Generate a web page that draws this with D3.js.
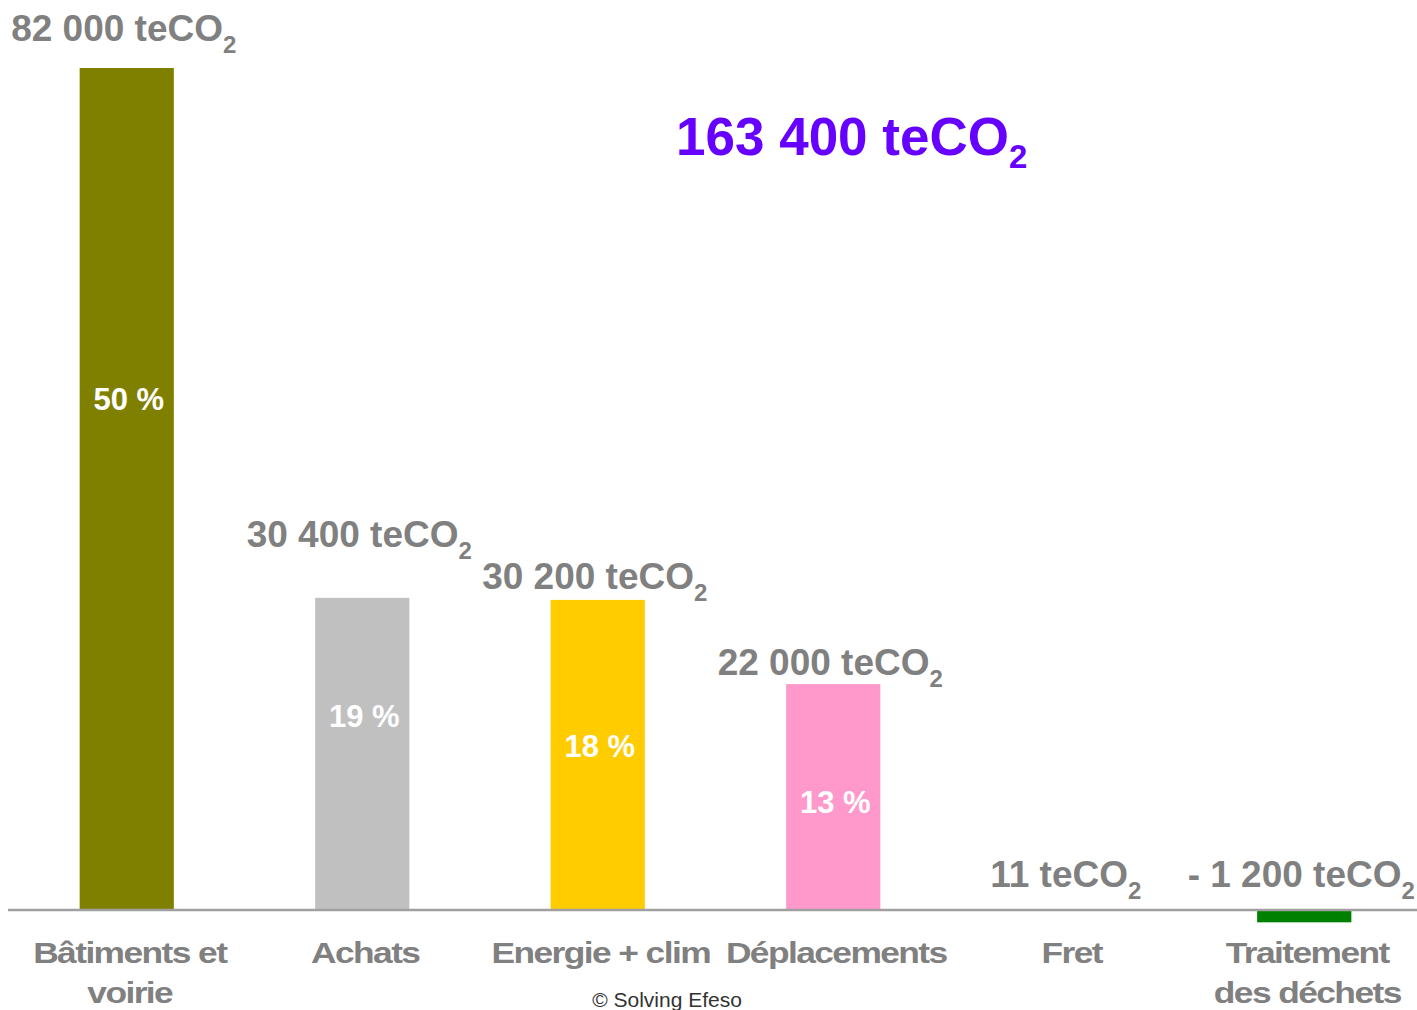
<!DOCTYPE html>
<html>
<head>
<meta charset="utf-8">
<script src="https://cdn.jsdelivr.net/npm/d3@7"></script>
<style>
  html, body { margin: 0; padding: 0; background: #ffffff; }
  svg { display: block; }
  text { font-family: "Liberation Sans", Arial, sans-serif; }
</style>
</head>
<body>
<svg id="chart" width="1417" height="1010"></svg>
<script>
// ---- Data ----
const categories = [["Bâtiments et", "voirie"], ["Achats"], ["Energie + clim"], ["Déplacements"], ["Fret"], ["Traitement", "des déchets"]];
const values = [82000, 30400, 30200, 22000, 11, -1200];
const valueLabels = ["82 000", "30 400", "30 200", "22 000", "11", "- 1 200"];
const percentLabels = ["50 %", "19 %", "18 %", "13 %", null, null];
const barColors = ["#808000", "#C0C0C0", "#FFCC00", "#FF99CC", "#3366CC", "#008000"];
const totalLabel = "163 400";
const unit = "teCO";
const unitSub = "2";
const credit = "© Solving Efeso";

// ---- Layout (px, not data) ----
const W = 1417, H = 1010;
const valueLabelGap = [27, 51, 11, 9, 23, 23];     // baseline above bar top / zero line
const pctLabelRise = [500, 183, 153, 97];          // baseline above zero line

const svg = d3.select("#chart");
svg.append("rect").attr("width", W).attr("height", H).attr("fill", "#fff");

const idx = d3.range(categories.length);
const x = d3.scaleBand().domain(idx).range([9, 1422]).paddingInner(0.6).paddingOuter(0.3);
const y = d3.scaleLinear().domain([0, 82000]).range([910, 68]);

// bars
svg.append("g").selectAll("rect").data(idx).join("rect")
  .attr("x", i => x(i))
  .attr("width", x.bandwidth())
  .attr("y", i => Math.min(y(values[i]), y(0)))
  .attr("height", i => Math.abs(y(values[i]) - y(0)))
  .attr("fill", i => barColors[i]);

// axis (baseline) via d3 axis
const axis = d3.axisBottom(x).tickSize(0).tickFormat("");
const gAxis = svg.append("g").attr("transform", `translate(0,${y(0)})`).call(axis);
gAxis.select(".domain").attr("d", "M8,0H1417").attr("stroke", "#A0A0A0").attr("stroke-width", 2.5);

// value labels
const vl = svg.append("g").selectAll("text").data(idx).join("text")
  .attr("x", i => x(i) + x.bandwidth() / 2 - 3)
  .attr("y", i => Math.min(y(values[i]), y(0)) - valueLabelGap[i])
  .attr("text-anchor", "middle")
  .attr("fill", "#808080")
  .attr("font-weight", "bold")
  .attr("font-size", 37);
vl.append("tspan").text(i => valueLabels[i] + " " + unit);
vl.append("tspan").attr("font-size", 24).attr("dy", 12).text(unitSub);

// percent labels
svg.append("g").selectAll("text").data(idx.filter(i => percentLabels[i])).join("text")
  .attr("x", i => x(i) + x.bandwidth() / 2 + 2)
  .attr("y", i => y(0) - pctLabelRise[i])
  .attr("text-anchor", "middle")
  .attr("fill", "#ffffff")
  .attr("font-weight", "bold")
  .attr("font-size", 31)
  .text(i => percentLabels[i]);

// category labels
const cl = svg.append("g").selectAll("text").data(idx).join("text")
  .attr("transform", i => `translate(${x(i) + x.bandwidth() / 2 + 3},963) scale(1.22,1)`)
  .attr("text-anchor", "middle")
  .attr("fill", "#808080")
  .attr("font-weight", "bold")
  .attr("font-size", 29)
  .attr("letter-spacing", -1.3);
cl.selectAll("tspan").data(i => categories[i]).join("tspan")
  .attr("x", 0)
  .attr("dy", (d, j) => j === 0 ? 0 : 40)
  .text(d => d);

// total
const tl = svg.append("text")
  .attr("x", 676).attr("y", 155)
  .attr("fill", "#6600FF")
  .attr("font-weight", "bold")
  .attr("font-size", 53);
tl.append("tspan").text(totalLabel + " " + unit);
tl.append("tspan").attr("font-size", 33).attr("dy", 13).text(unitSub);

// credit
svg.append("text")
  .attr("x", 667).attr("y", 1007)
  .attr("text-anchor", "middle")
  .attr("fill", "#333333")
  .attr("font-size", 21)
  .text(credit);
</script>
</body>
</html>
